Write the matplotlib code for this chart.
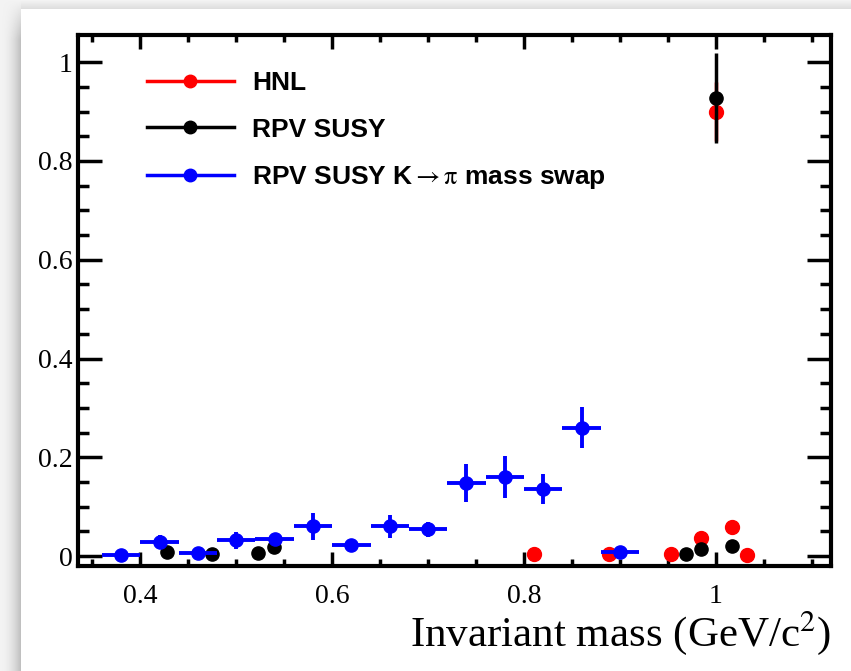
import numpy as np
import matplotlib
matplotlib.use('Agg')
import matplotlib.pyplot as plt
from matplotlib.lines import Line2D

# ------------------------- Data -------------------------
# HNL (red)
hnl_x = [0.81, 0.889, 0.953, 0.984, 1.0, 1.017, 1.032]
hnl_y = [0.004, 0.004, 0.004, 0.036, 0.90, 0.059, 0.002]
hnl_yerr = [0.0, 0.0, 0.0, 0.0, 0.06, 0.0, 0.0]

# RPV SUSY (black)
susy_x = [0.428, 0.475, 0.523, 0.539, 0.969, 0.984, 1.0, 1.017]
susy_y = [0.008, 0.004, 0.006, 0.018, 0.004, 0.014, 0.927, 0.020]
susy_yerr = [0.0, 0.0, 0.0, 0.012, 0.0, 0.0, 0.091, 0.0]

# RPV SUSY K->pi mass swap (blue)
swap_x = [0.38, 0.42, 0.46, 0.50, 0.54, 0.58, 0.62, 0.66, 0.70, 0.74, 0.78, 0.82, 0.86, 0.90]
swap_y = [0.002, 0.029, 0.006, 0.032, 0.034, 0.060, 0.022, 0.060, 0.054, 0.148, 0.160, 0.136, 0.260, 0.008]
swap_yerr = [0.0, 0.014, 0.0, 0.017, 0.010, 0.027, 0.0, 0.024, 0.015, 0.039, 0.043, 0.030, 0.042, 0.0]
swap_xerr = [0.02] * len(swap_x)

y_ticks = [0, 0.2, 0.4, 0.6, 0.8, 1.0]
y_tick_labels = ['0', '0.2', '0.4', '0.6', '0.8', '1']
x_ticks = [0.4, 0.6, 0.8, 1.0]
x_tick_labels = ['0.4', '0.6', '0.8', '1']

legend_labels = ['HNL', 'RPV SUSY', 'RPV SUSY K$\\rightarrow\\mathrm{\\pi}$ mass swap']

# ------------------------- Figure -------------------------
plt.rcParams['mathtext.fontset'] = 'stix'
W, H = 851, 671
fig = plt.figure(figsize=(W / 100, H / 100), dpi=100)

# soft grey shadow around the white panel
bg = fig.add_axes([0, 0, 1, 1], zorder=-10)
bg.axis('off')
xx, yy = np.meshgrid(np.arange(W), np.arange(H))
shade = np.ones((H, W))
left = xx < 21
top = yy < 9
shade[left] = 0.95 - 0.22 * (xx[left] / 21.0) ** 2
shade[top & ~left] = 0.95 - 0.09 * (yy[top & ~left] / 9.0)
corner = left & (yy < 40)
shade[corner] = np.maximum(shade[corner], 0.95 - (0.95 - shade[corner]) * (yy[corner] / 40.0))
bg.imshow(shade, cmap='gray', vmin=0, vmax=1, extent=[0, W, H, 0], aspect='auto', interpolation='bilinear')
bg.set_xlim(0, W)
bg.set_ylim(H, 0)

ax = fig.add_axes([78 / W, 1 - 566 / H, (831 - 78) / W, (566 - 35) / H])

ax.errorbar(hnl_x, hnl_y, yerr=hnl_yerr, fmt='o', color='#ff0000', ms=10, elinewidth=2.5, capsize=0, zorder=3)
ax.errorbar(susy_x, susy_y, yerr=susy_yerr, fmt='o', color='black', ms=9.5, elinewidth=2.5, capsize=0, zorder=4)
ax.errorbar(swap_x, swap_y, xerr=swap_xerr, yerr=swap_yerr, fmt='o', color='#0000ff', ms=9.5, elinewidth=2.8, capsize=0, zorder=5)

ax.set_xlim(0.335, 1.12)
ax.set_ylim(-0.02, 1.055)

ax.set_xticks(x_ticks)
ax.set_xticklabels(x_tick_labels)
ax.set_yticks(y_ticks)
ax.set_yticklabels(y_tick_labels)
ax.set_xticks(np.arange(0.35, 1.12, 0.05), minor=True)
ax.set_yticks(np.arange(0.0, 1.05, 0.05), minor=True)

for lab in ax.get_xticklabels() + ax.get_yticklabels():
    lab.set_fontfamily('Liberation Serif')
    lab.set_fontsize(20)

ax.tick_params(axis='both', which='both', direction='in', top=True, right=True, width=2.5, color='black')
ax.tick_params(axis='x', which='major', length=10, pad=13)
ax.tick_params(axis='x', which='minor', length=5)
ax.tick_params(axis='y', which='major', length=17, pad=4)
ax.tick_params(axis='y', which='minor', length=8)
for s in ax.spines.values():
    s.set_linewidth(3.0)

ax.set_xlabel('Invariant mass (GeV/c$^{2}$)', loc='right', fontsize=31, family='Liberation Serif', labelpad=0)

handles = [
    Line2D([], [], color='#ff0000', lw=2.5, marker='o', ms=9),
    Line2D([], [], color='black', lw=2.5, marker='o', ms=9),
    Line2D([], [], color='#0000ff', lw=2.5, marker='o', ms=9),
]
leg = ax.legend(handles, legend_labels, loc='upper left', bbox_to_anchor=(0.06, 0.976), frameon=False,
                handlelength=3.3, handletextpad=0.68, labelspacing=0.84,
                prop={'family': ['Liberation Sans', 'DejaVu Sans'], 'weight': 'bold', 'size': 19})

fig.savefig('out.png', dpi=100)
